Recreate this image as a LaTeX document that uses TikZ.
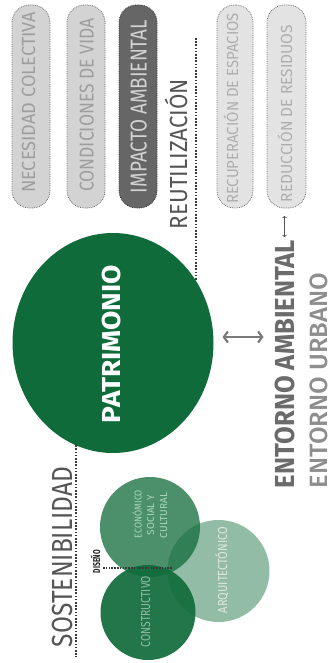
\documentclass[tikz,border=0pt]{standalone}
\usepackage{fontspec}
\usepackage{graphicx}
\setmainfont{Fira Sans}
\newfontfamily\mediumsans{Fira Sans Medium}
\usetikzlibrary{arrows.meta,shapes.geometric}
\pgfdeclarelayer{bg}
\pgfsetlayers{bg,main}

% stretch a line of text to a given length, keeping its height
\newcommand\fitlen[2]{\resizebox{#1}{\height}{#2}}
\newcommand\fs[1]{\fontsize{#1pt}{#1pt}\selectfont}

\definecolor{pgreen}{HTML}{106B3A}
\definecolor{pillA}{HTML}{D3D3D3}
\definecolor{pillB}{HTML}{E3E3E3}
\definecolor{pillC}{HTML}{666666}
\definecolor{pillline}{HTML}{6E6E6E}
\definecolor{txtA}{HTML}{9E9E9E}
\definecolor{txtB}{HTML}{AEAEAE}
\definecolor{txtC}{HTML}{D2D2D2}
\definecolor{darktxt}{HTML}{555555}
\definecolor{entA}{HTML}{6B6B6B}
\definecolor{entB}{HTML}{8E8E8E}
\definecolor{arrowgray}{HTML}{7A7A7A}
\definecolor{dotgray}{HTML}{383838}

\tikzset{
  every node/.style={inner sep=0pt, outer sep=0pt},
  vtext/.style={rotate=90, anchor=base west},
  vctext/.style={rotate=90, anchor=base},
  pill/.style={draw=pillline, densely dotted, line width=0.8pt,
    rounded corners=17.5pt, minimum height=203pt},
  topline/.style={draw=dotgray, line width=1.8pt, dash pattern=on 3.5pt off 2.5pt},
  vdots/.style={draw=dotgray, line width=1.4pt, dash pattern=on 1.6pt off 1.6pt},
  dline/.style={draw=dotgray, line width=1.2pt, dash pattern=on 1.5pt off 1.3pt},
  bigarrow/.style={draw=arrowgray, line width=2.2pt,
    {Straight Barb[length=4pt,width=11pt]}-{Straight Barb[length=4pt,width=11pt]}},
  smallarrow/.style={draw=darktxt, line width=0.7pt,
    {Straight Barb[length=1.5pt,width=4pt]}-{Straight Barb[length=1.5pt,width=4pt]}},
}

\begin{document}
\begin{tikzpicture}[x=1pt,y=-1pt]
\useasboundingbox (0,0) rectangle (333,663);
\fill[white] (0,0) rectangle (333,663);

% pills
\node[pill, fill=pillA, minimum width=38pt] (p1) at (31,106.5) {};
\node[pill, fill=pillA, minimum width=38pt] (p2) at (86,106.5) {};
\node[pill, fill=pillC, draw=dotgray, minimum width=38pt] (p3) at (138,106.5) {};
\node[pill, fill=pillB, minimum width=36pt] (p4) at (235,106.5) {};
\node[pill, fill=pillB, minimum width=39pt] (p5) at (286.5,106.5) {};

\node[vtext, font=\normalfont\fs{19}, text=txtA] (t1) at (35,193) {\fitlen{181pt}{NECESIDAD COLECTIVA}};
\node[vtext, font=\normalfont\fs{20}, text=txtA] (t2) at (93.5,192) {\fitlen{174pt}{CONDICIONES DE VIDA}};
\node[vtext, font=\normalfont\fs{23}, text=txtC] (t3) at (146.5,193) {\fitlen{173pt}{IMPACTO AMBIENTAL}};
\node[vtext, font=\normalfont\fs{16}, text=txtB] (t4) at (238,204) {\fitlen{191pt}{RECUPERACIÓN DE ESPACIOS}};
\node[vtext, font=\normalfont\fs{16}, text=txtB] (t5) at (292,202) {\fitlen{177pt}{REDUCCIÓN DE RESIDUOS}};

% main circle
\node[ellipse, fill=pgreen, minimum width=201pt, minimum height=220pt] (pat) at (113,343) {};
\node[vtext, font=\bfseries\fs{26}, text=white] (patt) at (120,423) {\fitlen{158pt}{PATRIMONIO}};

% dotted links
\begin{pgfonlayer}{bg}
\draw[topline] ([yshift=68.5pt]p1.east) -- ([yshift=68.5pt]p5.west);
\end{pgfonlayer}
\coordinate (jn) at (196,38);
\draw[vdots] (jn) -- (jn |- pat.37);
\coordinate (send) at (76,657);
\draw[vdots] (pat.250) -- (pat.250 |- send);

\node[vtext, font=\normalfont\fs{24.7}, text=darktxt] (reu) at (187,229) {\fitlen{150pt}{REUTILIZACIÓN}};
\node[vtext, font=\normalfont\fs{29}, text=darktxt] (sos) at (72,647) {\fitlen{180pt}{SOSTENIBILIDAD}};

% surroundings
\node[vtext, font=\bfseries\fs{27.5}, text=entA] (ea) at (294,488) {\fitlen{248pt}{ENTORNO AMBIENTAL}};
\node[vtext, font=\mediumsans\fs{25}, text=entB] (eu) at (327.5,488) {\fitlen{215pt}{ENTORNO URBANO}};
\draw[smallarrow] ([yshift=3pt]ea.east) -- ([yshift=-8pt]ea.east |- p5.south);
\draw[bigarrow] ([shift={(9pt,6pt)}]pat.east) -- ++(41,0);

% design circles
\node[circle, fill=pgreen, fill opacity=0.45, minimum size=102pt] (arq) at (218.5,571) {};
\node[circle, fill=pgreen, fill opacity=0.75, minimum size=100pt] (eco) at (150,527) {};
\node[circle, fill=pgreen, fill opacity=0.92, minimum size=95pt] (con) at (148,612.5) {};

\node[vtext, font=\bfseries\fs{10}, text=black!85] (dis) at (100,573) {\fitlen{23pt}{DISEÑO}};
\draw[dline] ([shift={(3pt,5pt)}]dis.base west) -- ++(69,0);

\node[vctext, font=\normalfont\fs{10}, text=green!20!pgreen!35!white] (e1) at (141.7,514) {\fitlen{48pt}{ECONÓMICO}};
\node[vctext, font=\normalfont\fs{10}, text=green!20!pgreen!35!white] (e2) at (154,515) {\fitlen{40pt}{SOCIAL Y}};
\node[vctext, font=\normalfont\fs{10}, text=green!20!pgreen!35!white] (e3) at (167,515.5) {\fitlen{45pt}{CULTURAL}};
\node[vtext, font=\normalfont\fs{13}, text=pgreen!45!white] (ct) at (150,647) {\fitlen{71pt}{CONSTRUCTIVO}};
\node[vtext, font=\normalfont\fs{13}, text=pgreen!15!white] (at) at (227,613) {\fitlen{86pt}{ARQUITECTÓNICO}};
\end{tikzpicture}
\end{document}
